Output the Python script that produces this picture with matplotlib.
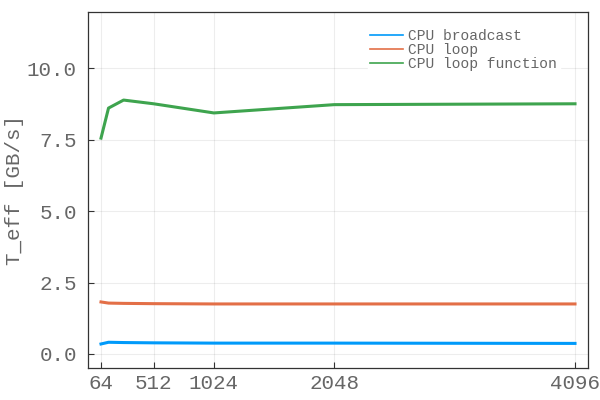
import numpy as np
import matplotlib
matplotlib.use('Agg')
import matplotlib.pyplot as plt

# problem size n and effective throughput (GB/s)
n = [64, 128, 256, 512, 1024, 2048, 4096]
cpu_broadcast = [0.35, 0.41, 0.40, 0.39, 0.38, 0.38, 0.37]
cpu_loop = [1.82, 1.78, 1.77, 1.76, 1.75, 1.75, 1.75]
cpu_loop_function = [7.55, 8.60, 8.88, 8.75, 8.43, 8.72, 8.75]
xticks = [64, 512, 1024, 2048, 4096]
yticks = [0.0, 2.5, 5.0, 7.5, 10.0]

plt.rcParams['font.family'] = ['Liberation Mono', 'DejaVu Sans Mono']
txt = '#666666'

fig = plt.figure(figsize=(6, 4), dpi=100)
ax = fig.add_axes([88/600, 1 - 368/400, 500/600, 356/400])

ax.plot(n, cpu_broadcast, color='#009AFA', lw=2.2, label='CPU broadcast')
ax.plot(n, cpu_loop, color='#E36F47', lw=2.2, label='CPU loop')
ax.plot(n, cpu_loop_function, color='#3EA44E', lw=2.2, label='CPU loop function')

ax.set_xlim(-46.6, 4206.6)
ax.set_ylim(-0.49, 11.96)
ax.set_xticks(xticks)
ax.set_xticklabels([str(x) for x in xticks])
ax.set_yticks(yticks)
ax.set_yticklabels(['%.1f' % y for y in yticks])
ax.tick_params(direction='in', length=4, width=0.8, colors='#333333',
               labelcolor=txt, labelsize=15)
ax.tick_params(axis='y', pad=8)
ax.tick_params(axis='x', pad=4)
ax.grid(True, color='black', alpha=0.07, lw=0.8)
for s in ax.spines.values():
    s.set_color('#333333')
    s.set_linewidth(0.9)

ax.set_ylabel('T_eff [GB/s]', fontsize=15, color=txt, labelpad=2)

leg = ax.legend(loc='upper right', bbox_to_anchor=(560/600, 1 - 26/400),
                bbox_transform=fig.transFigure, frameon=True, fontsize=10.5,
                handlelength=2.2, handletextpad=0.4, labelspacing=0.0,
                borderpad=0.2, borderaxespad=0)
leg.get_frame().set_edgecolor('white')
leg.get_frame().set_facecolor('white')
leg.get_frame().set_alpha(1)
for t in leg.get_texts():
    t.set_color(txt)
for l in leg.get_lines():
    l.set_linewidth(1.2)

fig.savefig('out.png', dpi=100)
